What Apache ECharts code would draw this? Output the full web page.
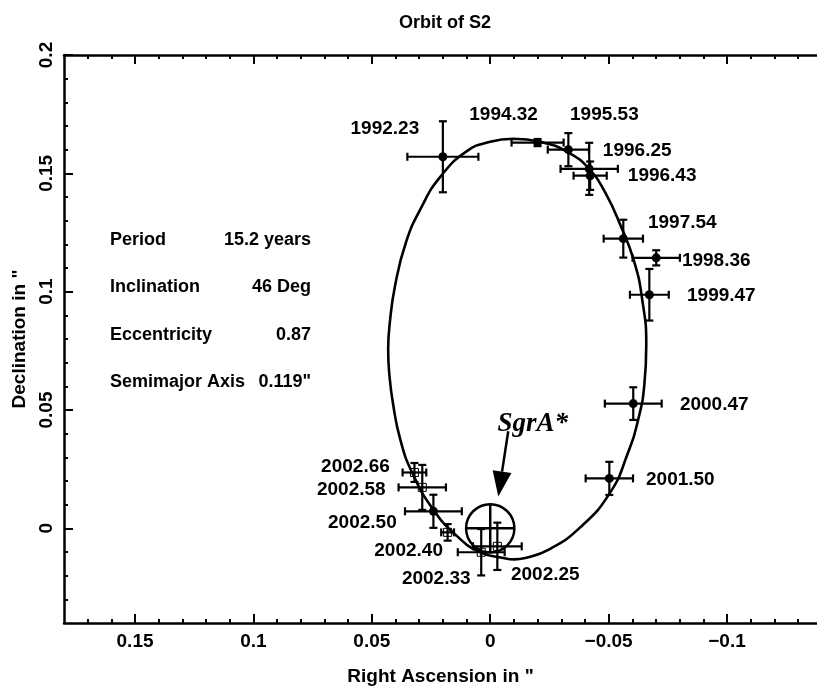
<!DOCTYPE html>
<html>
<head>
<meta charset="utf-8">
<script src="https://cdn.jsdelivr.net/npm/echarts@6/dist/echarts.min.js"></script>
<style>
  html, body { margin: 0; background: #fff; }
  #chart { width: 817px; height: 692px; }
</style>
</head>
<body>
<div id="chart"></div>
<script>
// positions of S2 (arcsec)
const epochs = ['1992.23', '1994.32', '1995.53', '1996.25', '1996.43', '1997.54', '1998.36',
  '1999.47', '2000.47', '2001.50', '2002.25', '2002.33', '2002.40', '2002.50', '2002.58', '2002.66'];
const raOffset  = [0.020, -0.020, -0.033, -0.0418, -0.0422, -0.0562, -0.0701,
  -0.0672, -0.0604, -0.0503, -0.003, 0.0038, 0.018, 0.024, 0.0287, 0.032];
const decOffset = [0.157, 0.163, 0.160, 0.1519, 0.149, 0.1224, 0.1143,
  0.0987, 0.0527, 0.0211, -0.0076, -0.0101, -0.0017, 0.0072, 0.0173, 0.0236];
const raError   = [0.015, 0.011, 0.0087, 0.0121, 0.0070, 0.0083, 0.0100,
  0.0082, 0.0120, 0.0100, 0.0103, 0.0099, 0.0027, 0.0120, 0.0100, 0.0050];
const decError  = [0.015, 0.0015, 0.007, 0.0110, 0.0060, 0.0080, 0.0032,
  0.0109, 0.0069, 0.0070, 0.0100, 0.0098, 0.0035, 0.0070, 0.0095, 0.0040];
const markerKind = ['dot', 'dot', 'dot', 'dot', 'dot', 'dot', 'dot',
  'dot', 'dot', 'dot', 'square', 'square', 'square', 'dot', 'square', 'square'];

// fitted orbit
const orbitRa  = [-0.0097, 0.0000, 0.0097, 0.0211, 0.0292, 0.0355, 0.0401, 0.0425, 0.0431, 0.0426,
  0.0410, 0.0380, 0.0330, 0.0241, 0.0139, 0.0042, -0.0055, -0.0101, -0.0148, -0.0245,
  -0.0380, -0.0507, -0.0579, -0.0625, -0.0651, -0.0659, -0.0642, -0.0608, -0.0549, -0.0486,
  -0.0422, -0.0325, -0.0211, -0.0097];
const orbitDec = [0.1646, 0.1633, 0.1595, 0.1485, 0.1354, 0.1211, 0.1030, 0.0860, 0.0755, 0.0650,
  0.0523, 0.0376, 0.0236, 0.0080, -0.0034, -0.0101, -0.0125, -0.0131, -0.0125, -0.0091,
  0.0004, 0.0152, 0.0312, 0.0460, 0.0608, 0.0776, 0.0966, 0.1127, 0.1283, 0.1418,
  0.1515, 0.1591, 0.1633, 0.1646];

const xMajorTicks = [0.15, 0.1, 0.05, 0, -0.05, -0.1];
const xMinorTicks = [0.17, 0.16, 0.14, 0.13, 0.12, 0.11, 0.09, 0.08, 0.07, 0.06, 0.04, 0.03, 0.02, 0.01,
  -0.01, -0.02, -0.03, -0.04, -0.06, -0.07, -0.08, -0.09, -0.11, -0.12, -0.13];
const yMajorTicks = [0, 0.05, 0.1, 0.15, 0.2];
const yMinorTicks = [-0.03, -0.02, -0.01, 0.01, 0.02, 0.03, 0.04, 0.06, 0.07, 0.08, 0.09,
  0.11, 0.12, 0.13, 0.14, 0.16, 0.17, 0.18, 0.19];

const paramNames  = ['Period', 'Inclination', 'Eccentricity', 'Semimajor Axis'];
const paramValues = ['15.2 years', '46 Deg', '0.87', '0.119"'];

const sgrA = [0, 0];
const sgrARadius = 0.0102;
const sgrALabelAt = [-0.018, 0.044];
const arrowFrom = [-0.0076, 0.0410];
const arrowTo   = [-0.0034, 0.0135];

// where each epoch label sits relative to its point (px)
const labelOffsets = [[-58, -28], [-34, -28], [36, -35], [48, -18], [72, 0], [59, -16], [60, 3],
  [72, 1], [81, 1], [71, 1], [48, 28], [-45, 27], [-39, 18], [-71, 11], [-71, 2], [-59, -6]];

const FONT = '"Liberation Sans", Arial, sans-serif';
const black = '#000';

const fmt = v => (v < 0 ? '\u2212' + String(-v) : String(v));

const punti = epochs.map((e, i) => [raOffset[i], decOffset[i], raError[i], decError[i], i]);

function barreErrore(params, api) {
  const x = api.value(0), y = api.value(1), ex = api.value(2), ey = api.value(3);
  const i = api.value(4);
  const c = api.coord([x, y]);
  const a = api.coord([x + ex, y]);
  const b = api.coord([x - ex, y]);
  const t = api.coord([x, y + ey]);
  const d = api.coord([x, y - ey]);
  const cap = 4;
  const st = { stroke: black, lineWidth: 2.2 };
  const children = [
    { type: 'line', shape: { x1: a[0], y1: c[1], x2: b[0], y2: c[1] }, style: st },
    { type: 'line', shape: { x1: a[0], y1: c[1] - cap, x2: a[0], y2: c[1] + cap }, style: st },
    { type: 'line', shape: { x1: b[0], y1: c[1] - cap, x2: b[0], y2: c[1] + cap }, style: st },
    { type: 'line', shape: { x1: c[0], y1: t[1], x2: c[0], y2: d[1] }, style: st },
    { type: 'line', shape: { x1: c[0] - cap, y1: t[1], x2: c[0] + cap, y2: t[1] }, style: st },
    { type: 'line', shape: { x1: c[0] - cap, y1: d[1], x2: c[0] + cap, y2: d[1] }, style: st }
  ];
  if (markerKind[i] === 'dot') {
    children.push({ type: 'circle', shape: { cx: c[0], cy: c[1], r: 4.5 }, style: { fill: black } });
  } else {
    children.push({ type: 'rect', shape: { x: c[0] - 4, y: c[1] - 4, width: 8, height: 8 },
      style: { fill: 'none', stroke: black, lineWidth: 1 } });
  }
  const off = labelOffsets[i];
  children.push({
    type: 'text', x: c[0] + off[0], y: c[1] + off[1],
    style: { text: epochs[i], fill: black, font: 'bold 19px ' + FONT, align: 'center', verticalAlign: 'middle' }
  });
  return { type: 'group', children };
}

function disegnaSgrA(params, api) {
  const c = api.coord(sgrA);
  const r = Math.abs(api.size([sgrARadius, 0])[0]);
  const st = { stroke: black, lineWidth: 2.5, fill: 'none' };
  const p0 = api.coord(arrowFrom);
  const p1 = api.coord(arrowTo);
  const dx = p1[0] - p0[0], dy = p1[1] - p0[1];
  const len = Math.sqrt(dx * dx + dy * dy);
  const ux = dx / len, uy = dy / len;
  const head = 25, half = 9.5;
  const bx = p1[0] - ux * head, by = p1[1] - uy * head;
  const lab = api.coord(sgrALabelAt);
  return {
    type: 'group',
    children: [
      { type: 'circle', shape: { cx: c[0], cy: c[1], r: r }, style: st },
      { type: 'line', shape: { x1: c[0] - r, y1: c[1], x2: c[0] + r, y2: c[1] }, style: st },
      { type: 'line', shape: { x1: c[0], y1: c[1] - r, x2: c[0], y2: c[1] + r }, style: st },
      { type: 'line', shape: { x1: p0[0], y1: p0[1], x2: bx, y2: by }, style: st },
      { type: 'polygon', shape: { points: [[p1[0], p1[1]], [bx - uy * half, by + ux * half], [bx + uy * half, by - ux * half]] },
        style: { fill: black } },
      { type: 'text', x: lab[0], y: lab[1],
        style: { text: 'SgrA*', fill: black, font: 'italic bold 27px "Liberation Serif", "Times New Roman", serif',
          align: 'center', verticalAlign: 'middle' } }
    ]
  };
}

// the frame's right edge falls just outside the window in the original, so the
// visible range stops at -0.138; ticks are given as explicit lists
function asseX(extra) {
  return Object.assign({
    type: 'value', min: -0.138, max: 0.18, inverse: true,
    splitLine: { show: false },
    axisLine: { show: false, onZero: false, lineStyle: { color: black, width: 2.5 } },
    axisLabel: { show: false },
    axisTick: { show: true, inside: true, length: 4, customValues: xMinorTicks, lineStyle: { color: black, width: 2 } }
  }, extra);
}
function asseY(extra) {
  return Object.assign({
    type: 'value', min: -0.04, max: 0.2,
    splitLine: { show: false },
    axisLine: { show: false, onZero: false, lineStyle: { color: black, width: 2.5 } },
    axisLabel: { show: false },
    axisTick: { show: true, inside: true, length: 4, customValues: yMinorTicks, lineStyle: { color: black, width: 2 } }
  }, extra);
}

const majorTickX = { show: true, inside: true, length: 9, customValues: xMajorTicks, lineStyle: { color: black, width: 2 } };
const majorTickY = { show: true, inside: true, length: 9, customValues: yMajorTicks, lineStyle: { color: black, width: 2 } };

const chart = echarts.init(document.getElementById('chart'));

chart.setOption({
  animation: false,
  backgroundColor: '#fff',
  title: {
    text: 'Orbit of S2', left: 440, top: 9, textAlign: 'center',
    textStyle: { fontFamily: FONT, fontWeight: 'bold', fontSize: 18, color: black }
  },
  grid: { left: 64, top: 55, right: 0, bottom: 69, containLabel: false },
  xAxis: [
    asseX({
      position: 'bottom',
      axisLine: { show: true, onZero: false, lineStyle: { color: black, width: 2.5 } },
      axisTick: majorTickX,
      axisLabel: { show: true, customValues: xMajorTicks, formatter: fmt, color: black,
        fontFamily: FONT, fontWeight: 'bold', fontSize: 19, margin: 9 },
      name: 'Right Ascension in "', nameLocation: 'middle', nameGap: 44,
      nameTextStyle: { fontFamily: FONT, fontWeight: 'bold', fontSize: 19, color: black }
    }),
    asseX({ position: 'bottom' }),
    asseX({
      position: 'top',
      axisLine: { show: true, onZero: false, lineStyle: { color: black, width: 2.5 } },
      axisTick: majorTickX
    }),
    asseX({ position: 'top' })
  ],
  yAxis: [
    asseY({
      position: 'left',
      axisLine: { show: true, onZero: false, lineStyle: { color: black, width: 2.5 } },
      axisTick: majorTickY,
      axisLabel: { show: true, customValues: yMajorTicks, formatter: fmt, rotate: 90, color: black,
        fontFamily: FONT, fontWeight: 'bold', fontSize: 19, margin: 8 },
      name: 'Declination in "', nameLocation: 'middle', nameGap: 34,
      nameTextStyle: { fontFamily: FONT, fontWeight: 'bold', fontSize: 19, color: black }
    }),
    asseY({ position: 'left' })
  ],
  graphic: paramNames.map((n, i) => ({
    type: 'group',
    children: [
      { type: 'text', x: 110, y: 240 + i * 47.3,
        style: { text: n, fill: black, font: 'bold 18px ' + FONT, align: 'left', verticalAlign: 'middle' } },
      { type: 'text', x: 311, y: 240 + i * 47.3,
        style: { text: paramValues[i], fill: black, font: 'bold 18px ' + FONT, align: 'right', verticalAlign: 'middle' } }
    ]
  })),
  series: [
    {
      type: 'line',
      data: orbitRa.map((x, i) => [x, orbitDec[i]]),
      smooth: 0.5,
      smoothConstraint: false,
      showSymbol: false,
      symbol: 'none',
      lineStyle: { color: black, width: 2.6 },
      silent: true
    },
    {
      type: 'custom',
      data: punti,
      encode: { x: 0, y: 1 },
      renderItem: barreErrore,
      silent: true,
      z: 3
    },
    {
      type: 'custom',
      data: [[sgrA[0], sgrA[1]]],
      encode: { x: 0, y: 1 },
      renderItem: disegnaSgrA,
      silent: true,
      z: 4
    }
  ]
});
</script>
</body>
</html>
